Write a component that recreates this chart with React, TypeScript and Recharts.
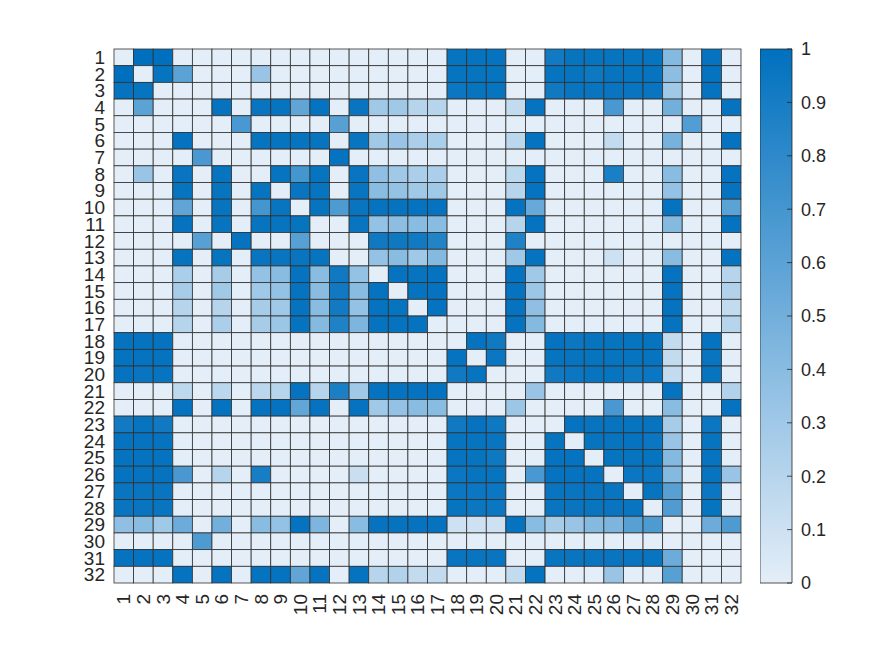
import { ScatterChart, Scatter, XAxis, YAxis, BarChart, Bar } from "recharts";

// row / column indices (1..32)
const indices = [
  1, 2, 3, 4, 5, 6, 7, 8, 9, 10, 11, 12, 13, 14, 15, 16,
  17, 18, 19, 20, 21, 22, 23, 24, 25, 26, 27, 28, 29, 30, 31, 32,
];

// one array per matrix row
const r01 = [0, 1, 1, 0, 0, 0, 0, 0, 0, 0, 0, 0, 0, 0, 0, 0, 0, 0.97, 0.98, 0.98, 0, 0, 0.92, 0.97, 0.97, 0.97, 0.97, 0.97, 0.42, 0, 0.98, 0];
const r02 = [1, 0, 0.97, 0.6, 0, 0, 0, 0.33, 0, 0, 0, 0, 0, 0, 0, 0, 0, 0.97, 0.97, 0.97, 0, 0, 0.97, 0.97, 0.94, 0.97, 0.97, 0.97, 0.38, 0, 0.98, 0];
const r03 = [0.98, 0.97, 0, 0, 0, 0, 0, 0, 0, 0, 0, 0, 0, 0, 0, 0, 0, 0.95, 0.97, 0.97, 0, 0, 0.93, 0.96, 0.96, 0.96, 0.96, 0.96, 0.3, 0, 0.98, 0];
const r04 = [0, 0.6, 0, 0, 0, 0.98, 0, 0.96, 0.97, 0.58, 0.98, 0, 0.96, 0.3, 0.3, 0.2, 0.2, 0, 0, 0, 0.15, 0.98, 0, 0, 0, 0.68, 0, 0, 0.5, 0, 0, 0.98];
const r05 = [0, 0, 0, 0, 0, 0, 0.68, 0, 0, 0, 0, 0.62, 0, 0, 0, 0, 0, 0, 0, 0, 0, 0, 0, 0, 0, 0, 0, 0, 0, 0.64, 0, 0];
const r06 = [0, 0, 0, 0.98, 0, 0, 0, 0.97, 0.97, 0.97, 0.97, 0, 0.96, 0.3, 0.33, 0.25, 0.25, 0, 0, 0, 0.18, 0.98, 0, 0, 0, 0.15, 0, 0, 0.48, 0, 0, 0.98];
const r07 = [0, 0, 0, 0, 0.68, 0, 0, 0, 0, 0, 0, 0.98, 0, 0, 0, 0, 0, 0, 0, 0, 0, 0, 0, 0, 0, 0, 0, 0, 0, 0, 0, 0];
const r08 = [0, 0.33, 0, 0.96, 0, 0.97, 0, 0, 0.97, 0.7, 0.97, 0, 0.96, 0.37, 0.3, 0.25, 0.25, 0, 0, 0, 0.17, 0.98, 0, 0, 0, 0.88, 0, 0, 0.4, 0, 0, 0.98];
const r09 = [0, 0, 0, 0.97, 0, 0.97, 0, 0.97, 0, 0.96, 0.97, 0, 0.96, 0.4, 0.35, 0.3, 0.3, 0, 0, 0, 0.2, 0.98, 0, 0, 0, 0, 0, 0, 0.35, 0, 0, 0.98];
const r10 = [0, 0, 0, 0.58, 0, 0.97, 0, 0.7, 0.96, 0, 0.97, 0.66, 0.96, 0.98, 0.98, 0.98, 0.98, 0, 0, 0, 0.98, 0.55, 0, 0, 0, 0, 0, 0, 0.98, 0, 0, 0.6];
const r11 = [0, 0, 0, 0.98, 0, 0.97, 0, 0.97, 0.97, 0.97, 0, 0, 0.96, 0.35, 0.38, 0.4, 0.4, 0, 0, 0, 0.2, 0.98, 0, 0, 0, 0, 0, 0, 0.42, 0, 0, 0.98];
const r12 = [0, 0, 0, 0, 0.62, 0, 0.98, 0, 0, 0.62, 0, 0, 0, 0.93, 0.94, 0.92, 0.85, 0, 0, 0, 0.86, 0, 0, 0, 0, 0, 0, 0, 0, 0, 0, 0];
const r13 = [0, 0, 0, 0.97, 0, 0.97, 0, 0.96, 0.96, 0.96, 0.97, 0, 0, 0.35, 0.4, 0.3, 0.42, 0, 0, 0, 0.3, 0.98, 0, 0, 0, 0.1, 0, 0, 0.4, 0, 0, 0.98];
const r14 = [0, 0, 0, 0.25, 0, 0.27, 0, 0.35, 0.4, 0.98, 0.4, 0.93, 0.35, 0, 0.98, 0.97, 0.98, 0, 0, 0, 0.98, 0.3, 0, 0, 0, 0, 0, 0, 0.98, 0, 0, 0.2];
const r15 = [0, 0, 0, 0.27, 0, 0.3, 0, 0.3, 0.35, 0.98, 0.4, 0.93, 0.4, 0.98, 0, 0.98, 0.98, 0, 0, 0, 0.98, 0.32, 0, 0, 0, 0, 0, 0, 0.98, 0, 0, 0.22];
const r16 = [0, 0, 0, 0.2, 0, 0.2, 0, 0.27, 0.3, 0.98, 0.4, 0.92, 0.35, 0.98, 0.97, 0, 0.98, 0, 0, 0, 0.98, 0.37, 0, 0, 0, 0, 0, 0, 0.98, 0, 0, 0.15];
const r17 = [0, 0, 0, 0.2, 0, 0.25, 0, 0.27, 0.32, 0.98, 0.42, 0.86, 0.45, 0.98, 0.98, 0.98, 0, 0, 0, 0, 0.98, 0.42, 0, 0, 0, 0, 0, 0, 0.98, 0, 0, 0.2];
const r18 = [0.98, 0.98, 0.98, 0, 0, 0, 0, 0, 0, 0, 0, 0, 0, 0, 0, 0, 0, 0, 0.98, 0.93, 0, 0, 0.98, 0.95, 0.97, 0.97, 0.97, 0.97, 0.15, 0, 0.98, 0];
const r19 = [0.98, 0.98, 0.98, 0, 0, 0, 0, 0, 0, 0, 0, 0, 0, 0, 0, 0, 0, 0.98, 0, 0.95, 0, 0, 0.97, 0.97, 0.97, 0.97, 0.97, 0.97, 0.15, 0, 0.96, 0];
const r20 = [0.98, 0.96, 0.97, 0, 0, 0, 0, 0, 0, 0, 0, 0, 0, 0, 0, 0, 0, 0.93, 0.97, 0, 0, 0, 0.93, 0.95, 0.97, 0.97, 0.94, 0.95, 0.15, 0, 0.97, 0];
const r21 = [0, 0, 0, 0.17, 0, 0.18, 0, 0.18, 0.2, 0.98, 0.2, 0.88, 0.3, 0.98, 0.98, 0.98, 0.98, 0, 0, 0, 0, 0.33, 0, 0, 0, 0, 0, 0, 0.98, 0, 0, 0.22];
const r22 = [0, 0, 0, 0.98, 0, 0.98, 0, 0.98, 0.98, 0.57, 0.98, 0, 0.98, 0.3, 0.35, 0.4, 0.4, 0, 0, 0, 0.32, 0, 0, 0, 0, 0.68, 0, 0, 0.4, 0, 0, 0.98];
const r23 = [0.92, 0.97, 0.93, 0, 0, 0, 0, 0, 0, 0, 0, 0, 0, 0, 0, 0, 0, 0.93, 0.98, 0.94, 0, 0, 0, 0.98, 0.97, 0.97, 0.97, 0.97, 0.27, 0, 0.95, 0];
const r24 = [0.98, 0.98, 0.98, 0, 0, 0, 0, 0, 0, 0, 0, 0, 0, 0, 0, 0, 0, 0.97, 0.97, 0.96, 0, 0, 0.97, 0, 0.97, 0.97, 0.98, 0.95, 0.33, 0, 0.97, 0];
const r25 = [0.98, 0.98, 0.98, 0, 0, 0, 0, 0, 0, 0, 0, 0, 0, 0, 0, 0, 0, 0.97, 0.97, 0.94, 0, 0, 0.98, 0.98, 0, 0.97, 0.97, 0.97, 0.42, 0, 0.97, 0];
const r26 = [0.98, 0.98, 0.98, 0.68, 0, 0.2, 0, 0.9, 0, 0, 0, 0, 0.12, 0, 0, 0, 0, 0.95, 0.97, 0.97, 0, 0.68, 0.98, 0.98, 0.98, 0, 0.95, 0.95, 0.42, 0, 0.97, 0.33];
const r27 = [0.96, 0.96, 0.96, 0, 0, 0, 0, 0, 0, 0, 0, 0, 0, 0, 0, 0, 0, 0.95, 0.95, 0.95, 0, 0, 0.96, 0.96, 0.96, 0.96, 0, 0.97, 0.62, 0, 0.95, 0];
const r28 = [0.96, 0.96, 0.96, 0, 0, 0, 0, 0, 0, 0, 0, 0, 0, 0, 0, 0, 0, 0.97, 0.95, 0.95, 0, 0, 0.96, 0.96, 0.96, 0.96, 0.96, 0, 0.65, 0, 0.97, 0];
const r29 = [0.37, 0.4, 0.3, 0.52, 0, 0.5, 0, 0.4, 0.35, 0.98, 0.45, 0, 0.4, 0.98, 0.98, 0.98, 0.98, 0.1, 0.1, 0.1, 0.98, 0.4, 0.27, 0.33, 0.42, 0.45, 0.62, 0.66, 0, 0, 0.52, 0.66];
const r30 = [0, 0, 0, 0, 0.66, 0, 0, 0, 0, 0, 0, 0, 0, 0, 0, 0, 0, 0, 0, 0, 0, 0, 0, 0, 0, 0, 0, 0, 0, 0, 0, 0];
const r31 = [0.98, 0.98, 0.98, 0, 0, 0, 0, 0, 0, 0, 0, 0, 0, 0, 0, 0, 0, 0.96, 0.96, 0.96, 0, 0, 0.96, 0.96, 0.96, 0.96, 0.96, 0.96, 0.52, 0, 0, 0];
const r32 = [0, 0, 0, 0.98, 0, 0.98, 0, 0.98, 0.98, 0.58, 0.98, 0, 0.98, 0.2, 0.22, 0.15, 0.15, 0, 0, 0, 0.15, 0.98, 0, 0, 0, 0.33, 0, 0, 0.62, 0, 0, 0];

const matrix = [
  r01, r02, r03, r04, r05, r06, r07, r08, r09, r10, r11, r12, r13, r14, r15, r16,
  r17, r18, r19, r20, r21, r22, r23, r24, r25, r26, r27, r28, r29, r30, r31, r32,
];

// colorbar ticks
const barTicks = [0, 0.1, 0.2, 0.3, 0.4, 0.5, 0.6, 0.7, 0.8, 0.9, 1];

const FONT = '"Liberation Sans", Arial, Helvetica, sans-serif';
const TEXT = "#262626";

// plot area (inside the svg)
const PLOT_W = 627;
const PLOT_H = 534;
const CELL_W = PLOT_W / 32;
const CELL_H = PLOT_H / 32;

const LOW = [228, 238, 248];
const HIGH = [0, 112, 190];

const colorFor = (v: number) => {
  const t = Math.max(0, Math.min(1, v));
  const c = LOW.map((lo, i) => Math.round(lo + (HIGH[i] - lo) * t));
  return `rgb(${c[0]},${c[1]},${c[2]})`;
};

const cells = matrix.flatMap((row, i) =>
  row.map((v, j) => ({ col: indices[j], row: indices[i], v }))
);

const CellShape = (props: any) => {
  const { cx, cy, payload } = props;
  return (
    <rect
      x={cx - CELL_W / 2}
      y={cy - CELL_H / 2}
      width={CELL_W}
      height={CELL_H}
      fill={colorFor(payload.v)}
      stroke="#303030"
      strokeWidth={0.8}
    />
  );
};

const YTick = (props: any) => {
  const { x, y, payload } = props;
  return (
    <text x={x} y={y} dy="0.35em" textAnchor="end" fontSize={19} fontFamily={FONT} fill={TEXT}>
      {payload.value}
    </text>
  );
};

const XTick = (props: any) => {
  const { x, y, payload } = props;
  return (
    <text
      x={x}
      y={y}
      dy="0.35em"
      textAnchor="end"
      transform={`rotate(-90, ${x}, ${y})`}
      fontSize={19}
      fontFamily={FONT}
      fill={TEXT}
    >
      {payload.value}
    </text>
  );
};

const CbTick = (props: any) => {
  const { x, y, payload } = props;
  return (
    <g>
      <line x1={x - 14} x2={x - 9} y1={y} y2={y} stroke={TEXT} strokeWidth={0.8} />
      <text x={x} y={y} dy="0.35em" textAnchor="start" fontSize={18} fontFamily={FONT} fill={TEXT}>
        {String(payload.value)}
      </text>
    </g>
  );
};

const App = () => {
  const stops = barTicks.map((t) => (
    <stop key={t} offset={`${t * 100}%`} stopColor={colorFor(t)} />
  ));

  return (
    <div style={{ position: "relative", width: 860, height: 640 }}>
      <svg width={0} height={0} style={{ position: "absolute" }}>
        <defs>
          <linearGradient id="cbGrad" x1="0" y1="1" x2="0" y2="0">
            {stops}
          </linearGradient>
        </defs>
      </svg>

      <ScatterChart
        width={860}
        height={640}
        margin={{ top: 41, right: 127, bottom: 15, left: 46 }}
      >
        <XAxis
          type="number"
          dataKey="col"
          domain={[0.5, 32.5]}
          ticks={indices}
          interval={0}
          axisLine={false}
          tickLine={false}
          tickSize={0}
          tickMargin={11}
          height={50}
          tick={XTick}
        />
        <YAxis
          type="number"
          dataKey="row"
          domain={[0.5, 32.5]}
          reversed
          ticks={indices}
          interval={0}
          axisLine={false}
          tickLine={false}
          tickSize={0}
          tickMargin={9}
          width={60}
          tick={YTick}
        />
        <Scatter data={cells} shape={CellShape} isAnimationActive={false} />
      </ScatterChart>

      <div style={{ position: "absolute", left: 752, top: 0 }}>
        <BarChart
          width={100}
          height={640}
          data={[{ name: "cb", v: 1 }]}
          margin={{ top: 41, right: 0, bottom: 65, left: 0 }}
          barCategoryGap={0}
        >
          <XAxis dataKey="name" hide />
          <YAxis
            orientation="right"
            domain={[0, 1]}
            ticks={barTicks}
            interval={0}
            width={68}
            axisLine={false}
            tickLine={false}
            tickSize={0}
            tickMargin={9}
            tick={CbTick}
          />
          <Bar
            dataKey="v"
            fill="url(#cbGrad)"
            stroke="#262626"
            strokeWidth={0.8}
            isAnimationActive={false}
          />
        </BarChart>
      </div>
    </div>
  );
};

export default App;
